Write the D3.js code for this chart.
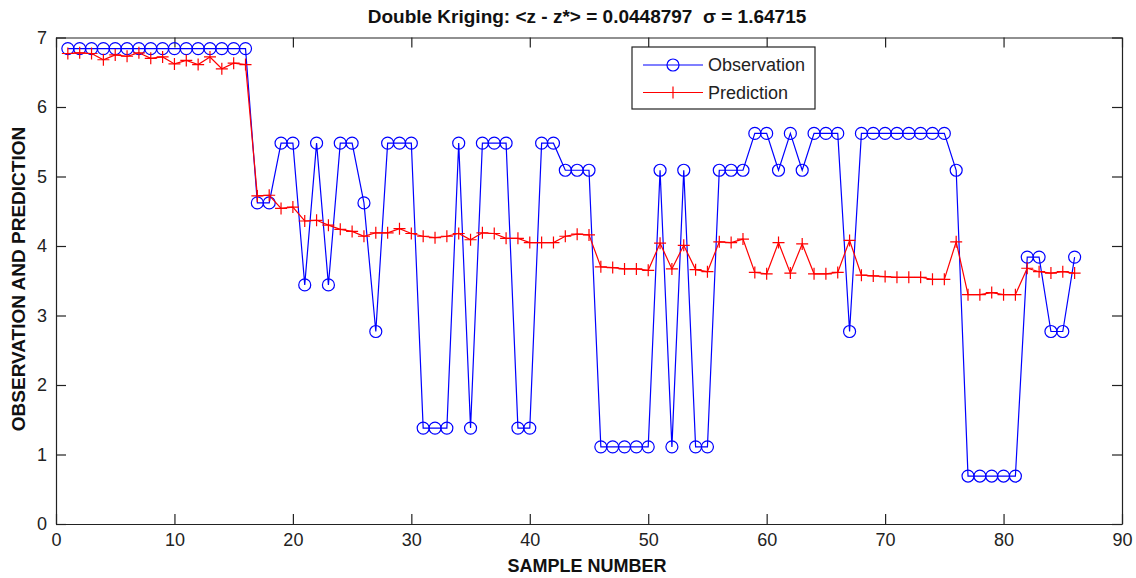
<!DOCTYPE html>
<html>
<head>
<meta charset="utf-8">
<script src="https://cdn.jsdelivr.net/npm/d3@7"></script>
<style>
  html, body { margin: 0; padding: 0; background: #fff; }
  svg { display: block; font-family: "Liberation Sans", Arial, sans-serif; }
</style>
</head>
<body>
<svg id="chart" width="1136" height="578"></svg>
<script>
// Sample numbers 1..86
const samples = [
  1,2,3,4,5,6,7,8,9,10,11,12,13,14,15,16,17,18,19,20,
  21,22,23,24,25,26,27,28,29,30,31,32,33,34,35,36,37,38,39,40,
  41,42,43,44,45,46,47,48,49,50,51,52,53,54,55,56,57,58,59,60,
  61,62,63,64,65,66,67,68,69,70,71,72,73,74,75,76,77,78,79,80,
  81,82,83,84,85,86
];

// Observed values
const observation = [
  6.84,6.84,6.84,6.84,6.84,6.84,6.84,6.84,6.84,6.84,6.84,6.84,6.84,6.84,6.84,6.84,
  4.62,4.62,5.48,5.48,3.44,5.48,3.44,5.48,5.48,4.62,2.77,5.48,5.48,5.48,
  1.38,1.38,1.38,5.48,1.38,5.48,5.48,5.48,1.38,1.38,
  5.48,5.48,5.09,5.09,5.09,1.11,1.11,1.11,1.11,1.11,
  5.09,1.11,5.09,1.11,1.11,5.09,5.09,5.09,5.62,5.62,
  5.09,5.62,5.09,5.62,5.62,5.62,2.77,5.62,5.62,5.62,
  5.62,5.62,5.62,5.62,5.62,5.09,0.69,0.69,0.69,0.69,
  0.69,3.84,3.84,2.77,2.77,3.84
];

// Double kriging predictions
const prediction = [
  6.77,6.78,6.77,6.68,6.75,6.73,6.78,6.70,6.72,6.62,6.67,6.61,6.72,6.55,6.63,6.61,
  4.72,4.73,4.54,4.56,4.36,4.37,4.30,4.24,4.21,4.14,4.19,4.19,4.25,4.18,
  4.14,4.12,4.14,4.18,4.09,4.19,4.18,4.11,4.11,4.05,
  4.05,4.05,4.14,4.17,4.16,3.70,3.69,3.67,3.67,3.65,
  4.04,3.67,4.01,3.66,3.63,4.06,4.05,4.10,3.62,3.60,
  4.05,3.61,4.03,3.60,3.60,3.62,4.08,3.58,3.57,3.56,
  3.55,3.55,3.55,3.52,3.52,4.06,3.30,3.30,3.33,3.30,
  3.30,3.68,3.63,3.61,3.63,3.61
];

const xTicks = [0,10,20,30,40,50,60,70,80,90];
const yTicks = [0,1,2,3,4,5,6,7];

const titleText = "Double Kriging: <z - z*> = 0.0448797  \u03c3 = 1.64715";
const xLabel = "SAMPLE NUMBER";
const yLabel = "OBSERVATION AND PREDICTION";
const seriesNames = ["Observation", "Prediction"];

const blue = "#0000ff", red = "#ff0000", axisColor = "#222";

const svg = d3.select("#chart");
const box = { left: 56, right: 1122, top: 37.5, bottom: 524 };

const x = d3.scaleLinear().domain([0, 90]).range([box.left, box.right]);
const y = d3.scaleLinear().domain([0, 7]).range([box.bottom, box.top]);
const fmt = d3.format("d");

// Axes with inward ticks on all four sides
function styleAxis(g) {
  g.selectAll("path.domain").attr("stroke", axisColor).attr("stroke-width", 1.2);
  g.selectAll(".tick line").attr("stroke", axisColor).attr("stroke-width", 1.2);
  g.selectAll(".tick text").attr("fill", "#222").style("font-size", "18px")
    .style("font-family", "'Liberation Sans', Arial, sans-serif");
}

svg.append("g").attr("transform", `translate(0,${box.bottom})`)
  .call(d3.axisBottom(x).tickValues(xTicks).tickFormat(fmt).tickSizeInner(-10).tickSizeOuter(0).tickPadding(9))
  .call(styleAxis);
svg.append("g").attr("transform", `translate(0,${box.top})`)
  .call(d3.axisTop(x).tickValues(xTicks).tickSizeInner(-10).tickSizeOuter(0).tickFormat(""))
  .call(styleAxis);
svg.append("g").attr("transform", `translate(${box.left},0)`)
  .call(d3.axisLeft(y).tickValues(yTicks).tickFormat(fmt).tickSizeInner(-10).tickSizeOuter(0).tickPadding(9))
  .call(styleAxis);
svg.append("g").attr("transform", `translate(${box.right},0)`)
  .call(d3.axisRight(y).tickValues(yTicks).tickSizeInner(-10).tickSizeOuter(0).tickFormat(""))
  .call(styleAxis);

const plot = svg.append("g");

const line = d3.line().x(d => x(d[0])).y(d => y(d[1]));
const obsPts = samples.map((s, i) => [s, observation[i]]);
const predPts = samples.map((s, i) => [s, prediction[i]]);

// Observation: blue line with open circles
plot.append("path").datum(obsPts).attr("d", line)
  .attr("fill", "none").attr("stroke", blue).attr("stroke-width", 1.2);
plot.selectAll("circle.obs").data(obsPts).join("circle").attr("class", "obs")
  .attr("cx", d => x(d[0])).attr("cy", d => y(d[1])).attr("r", 6)
  .attr("fill", "none").attr("stroke", blue).attr("stroke-width", 1.2);

// Prediction: red line with plus markers
plot.append("path").datum(predPts).attr("d", line)
  .attr("fill", "none").attr("stroke", red).attr("stroke-width", 1.2);
const plus = (sel, size) => sel.attr("d", d => {
  const cx = x(d[0]), cy = y(d[1]);
  return `M${cx - size},${cy}H${cx + size}M${cx},${cy - size}V${cy + size}`;
});
plot.selectAll("path.pred").data(predPts).join("path").attr("class", "pred")
  .call(plus, 6).attr("fill", "none").attr("stroke", red).attr("stroke-width", 1.2);

// Legend
const legend = svg.append("g");
legend.append("rect").attr("x", 632).attr("y", 47).attr("width", 183).attr("height", 62)
  .attr("fill", "#fff").attr("stroke", axisColor).attr("stroke-width", 1.2);
const rows = [{name: seriesNames[0], color: blue, ly: 65},
              {name: seriesNames[1], color: red, ly: 92.5}];
rows.forEach((r, i) => {
  legend.append("line").attr("x1", 643).attr("x2", 703).attr("y1", r.ly).attr("y2", r.ly)
    .attr("stroke", r.color).attr("stroke-width", 1.2);
  if (i === 0) {
    legend.append("circle").attr("cx", 673).attr("cy", r.ly).attr("r", 6)
      .attr("fill", "none").attr("stroke", r.color).attr("stroke-width", 1.2);
  } else {
    legend.append("path").attr("d", `M667,${r.ly}H679M673,${r.ly - 6}V${r.ly + 6}`)
      .attr("stroke", r.color).attr("stroke-width", 1.2);
  }
  legend.append("text").attr("x", 708).attr("y", r.ly).attr("dy", "0.35em")
    .style("font-size", "18px").attr("fill", "#222").text(r.name);
});

// Title and axis labels
svg.append("text").attr("x", 587).attr("y", 23).attr("text-anchor", "middle")
  .style("white-space", "pre")
  .style("font-size", "19px").style("font-weight", "bold").attr("fill", "#111").text(titleText);
svg.append("text").attr("x", 587).attr("y", 572).attr("text-anchor", "middle")
  .style("font-size", "18px").style("font-weight", "bold").attr("fill", "#111").text(xLabel);
svg.append("text").attr("transform", "translate(25,279) rotate(-90)").attr("text-anchor", "middle")
  .style("font-size", "19px").style("font-weight", "bold").attr("fill", "#111").text(yLabel);
</script>
</body>
</html>
